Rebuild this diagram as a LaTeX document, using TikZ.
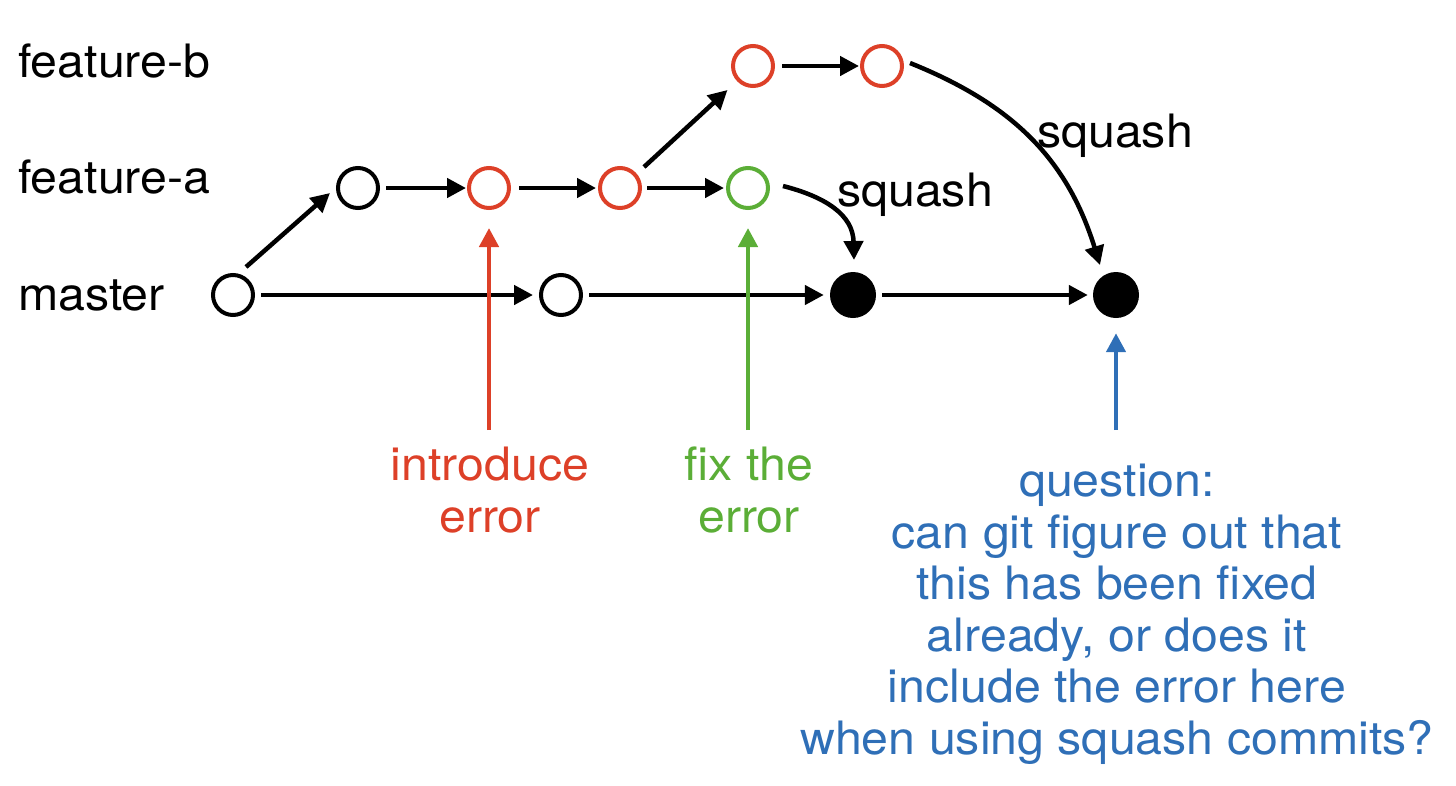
\documentclass[tikz,border=0pt]{standalone}
\usepackage{fontspec}
\setmainfont{TeX Gyre Heros}[FakeStretch=1.05]
\usetikzlibrary{arrows.meta}
\definecolor{errred}{RGB}{221,64,40}
\definecolor{fixgreen}{RGB}{91,174,55}
\definecolor{qblue}{RGB}{47,111,183}
\begin{document}
\begin{tikzpicture}[x=1pt,y=-1pt,
  commit/.style={circle,draw,line width=4pt,minimum size=40pt,inner sep=0pt},
  squashed/.style={circle,fill=black,minimum size=46pt,inner sep=0pt},
  lbl/.style={inner sep=0pt,font=\fontsize{46}{51.5}\selectfont},
  conn/.style={line width=4.5pt,-{Triangle[length=19pt,width=19pt]}},
 ]
\useasboundingbox (0,0) rectangle (1456,785);

% commits
\node[commit] (m0) at (233,295) {};
\node[commit] (m1) at (561,295) {};
\node[squashed] (m2) at (853,295) {};
\node[squashed] (m3) at (1116,295) {};
\node[commit] (a0) at (358,188) {};
\node[commit,errred] (a1) at (489,188) {};
\node[commit,errred] (a2) at (620,188) {};
\node[commit,fixgreen] (a3) at (748,188) {};
\node[commit,errred] (b0) at (753,66) {};
\node[commit,errred] (b1) at (882,66) {};

% branch labels
\node[lbl,anchor=base west] (lb) at (18,77) {feature-b};
\node[lbl,anchor=base west] (la) at (18,193) {feature-a};
\node[lbl,anchor=base west] (lm) at (18,310) {master};

% arrows between commits
\draw[conn,shorten <=6pt,shorten >=6pt] (m0) -- (m1);
\draw[conn,shorten <=6pt,shorten >=6pt] (m1) -- (m2);
\draw[conn,shorten <=6pt,shorten >=5pt] (m2) -- (m3);
\draw[conn,shorten <=6pt,shorten >=1pt] (a0) -- (a1);
\draw[conn,shorten <=8pt,shorten >=2pt] (a1) -- (a2);
\draw[conn,shorten <=5pt,shorten >=2pt] (a2) -- (a3);
\draw[conn,shorten <=7pt,shorten >=1pt] (b0) -- (b1);
\draw[conn] ([shift={(13,-28)}]m0.center) -- ([shift={(-28,5)}]a0.center);
\draw[conn] ([shift={(24,-21)}]a2.center) -- ([shift={(-25.5,24)}]b0.center);

% squash curves
\draw[conn] ([shift={(35,-2)}]a3.center) .. controls (826,197) and (853,215) .. ([shift={(1,-35)}]m2.center);
\draw[conn] ([shift={(28,-3)}]b1.center) .. controls (1012,104) and (1067,158.5) .. ([shift={(-16,-30)}]m3.center);
\node[lbl,anchor=base] (sq1) at (915,206) {squash};
\node[lbl,anchor=base] (sq2) at (1115,147) {squash};

% annotation arrows
\coordinate (rt) at (489,430);
\coordinate (gt) at (748,430);
\coordinate (bt) at (1116,430);
\draw[conn,errred,shorten >=18pt] (rt) -- (a1);
\draw[conn,fixgreen,shorten >=18pt] (gt) -- (a3);
\draw[conn,qblue,shorten >=15pt] (bt) -- (m3);

% annotation texts (base = baseline of last line)
\node[lbl,anchor=base,align=center,text=errred] (intro) at (490,532) {introduce\\error};
\node[lbl,anchor=base,align=center,text=fixgreen] (fix) at (749,532) {fix the\\error};
\node[lbl,anchor=base,align=center,text=qblue] (q) at (1117,754) {question:\\can git figure out that\\this has been fixed\\already, or does it\\include the error here\\when using squash commits?};
\end{tikzpicture}
\end{document}
